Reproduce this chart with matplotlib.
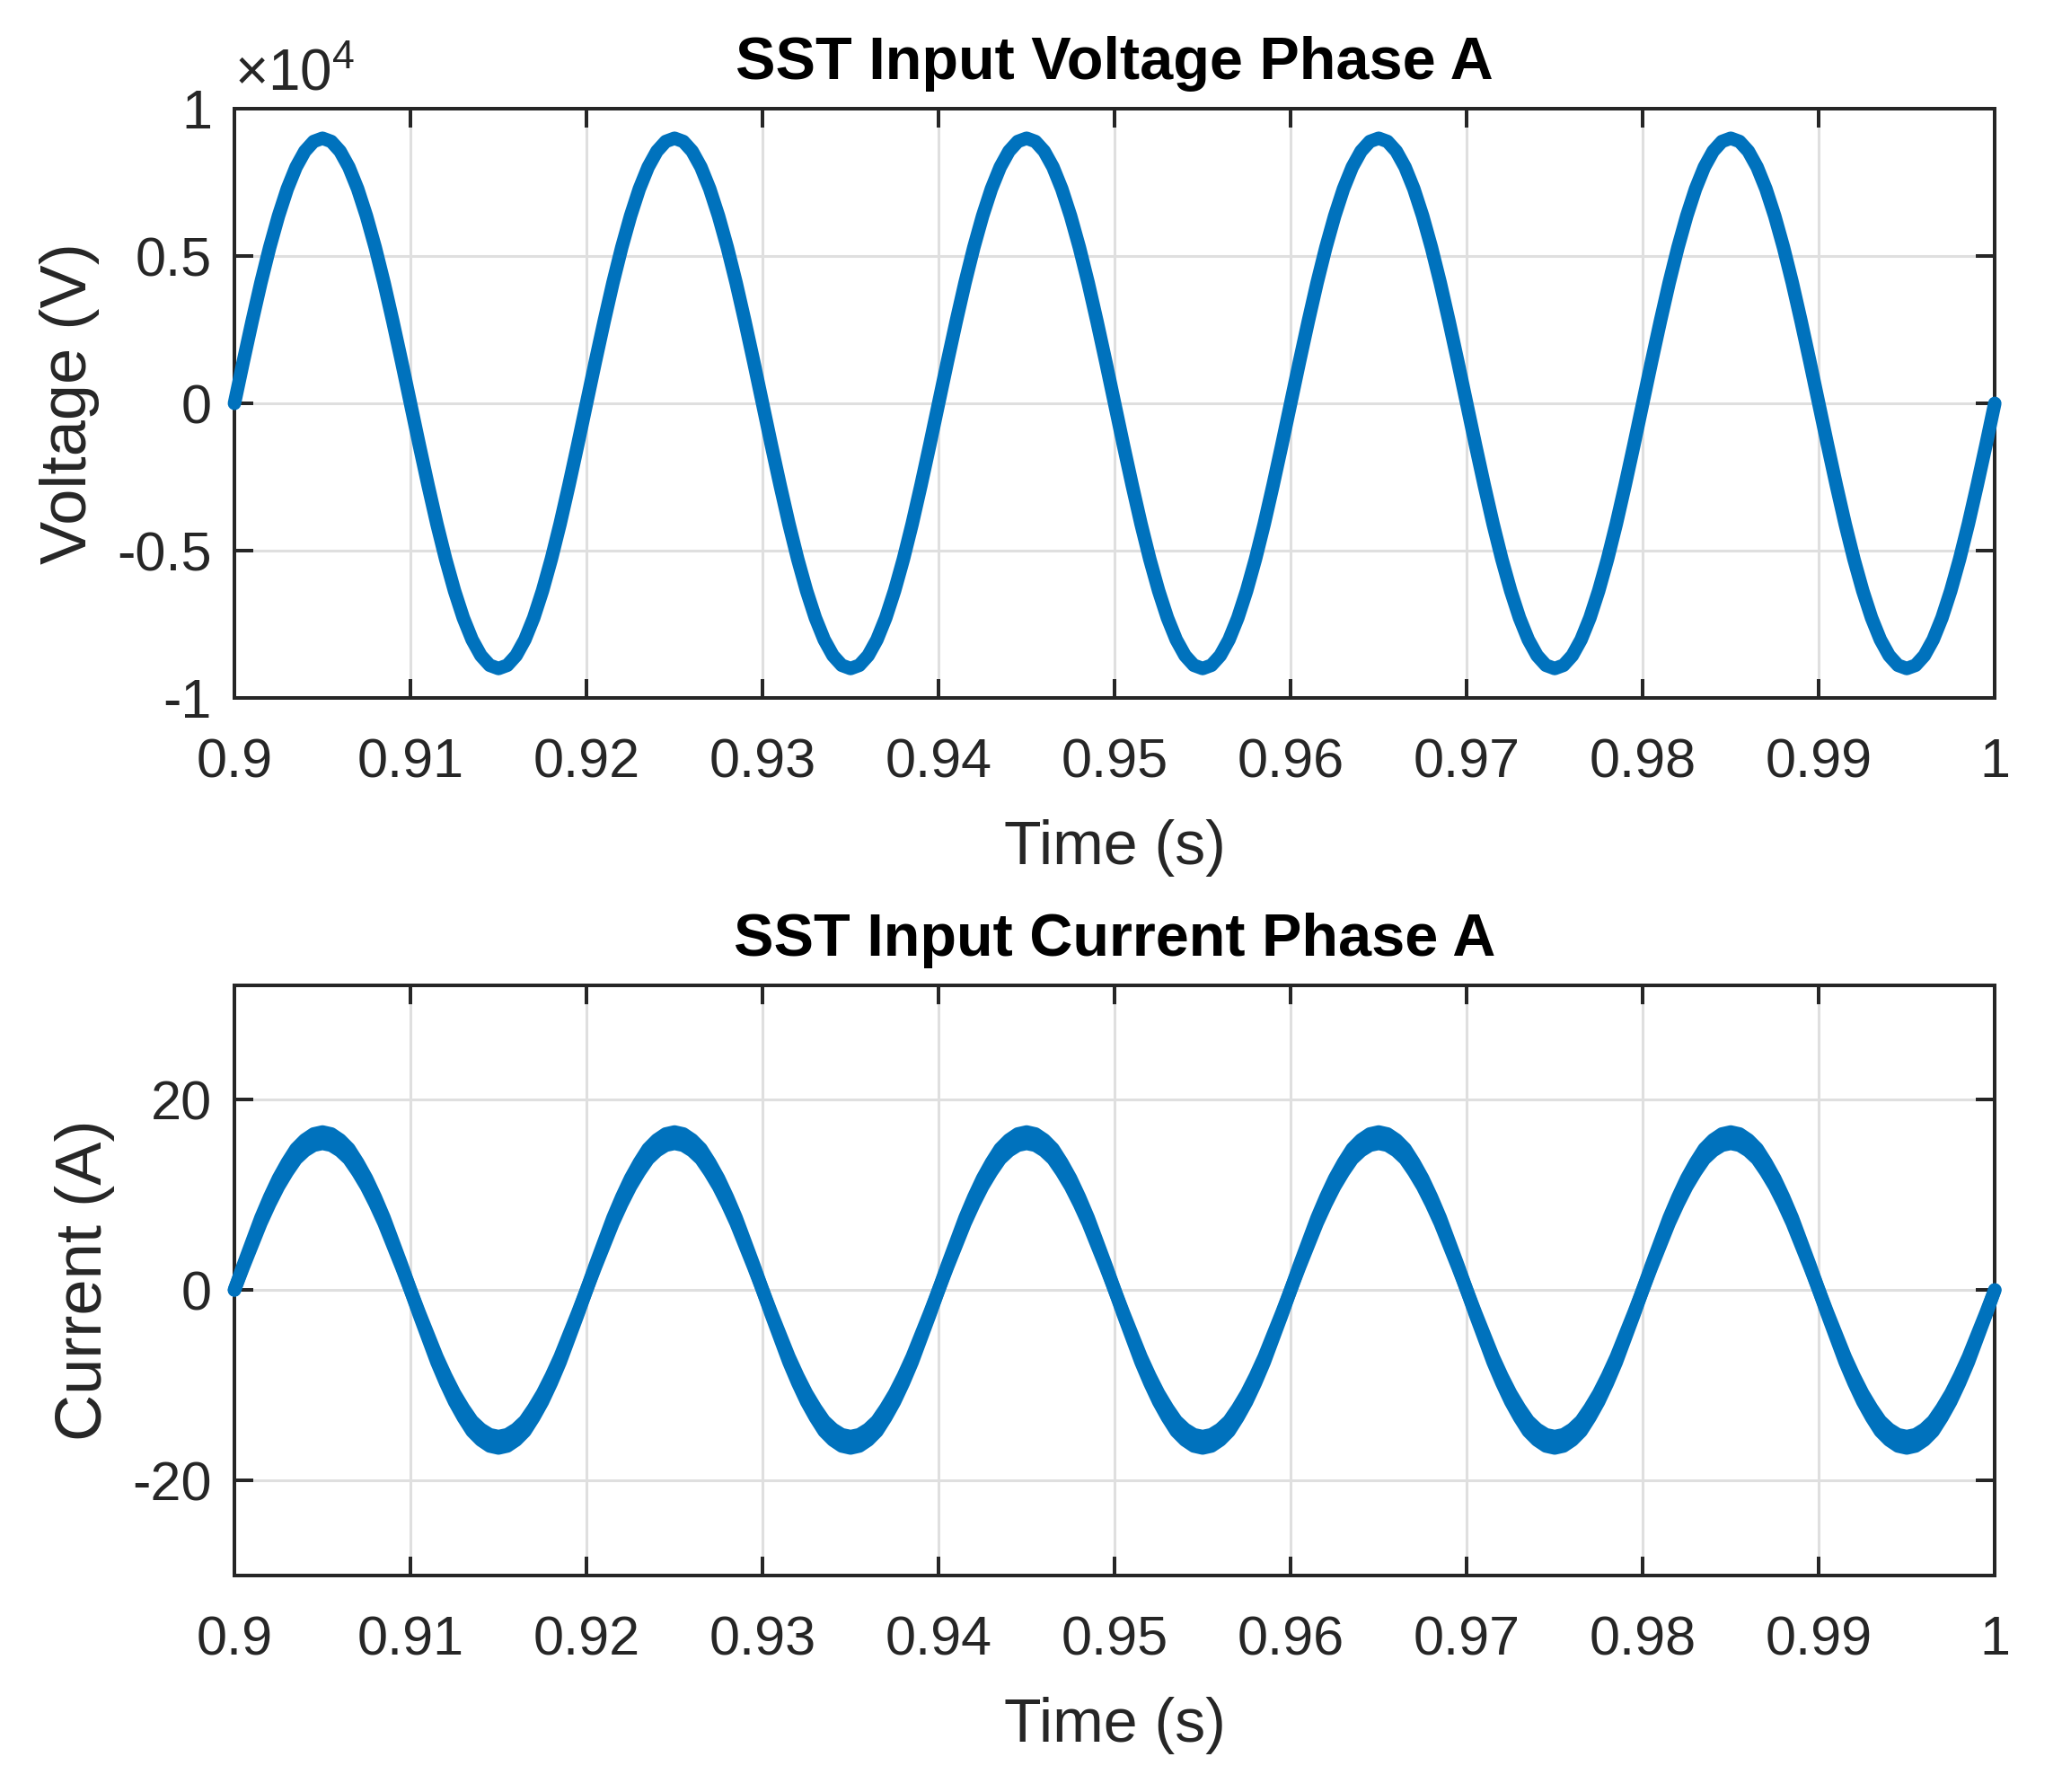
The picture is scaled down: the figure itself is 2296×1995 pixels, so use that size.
#SST input waveforms, phase A - voltage and current over the last 0.1 s
import numpy as np
import matplotlib
matplotlib.use('Agg')
import matplotlib.pyplot as plt

plt.rcParams['font.family'] = ['Liberation Sans', 'DejaVu Sans']
plt.rcParams['mathtext.default'] = 'regular'

#---Data (one row per 20 ms cycle, 0.5 ms samples)---
T0 = 0.9
Dt = 0.0005

Volts = [
    0, 1410, 2780, 4090, 5290, 6360, 7280, 8020, 8560, 8890, 9000, 8890, 8560, 8020, 7280, 6360, 5290, 4090, 2780, 1410,
    0, -1410, -2780, -4090, -5290, -6360, -7280, -8020, -8560, -8890, -9000, -8890, -8560, -8020, -7280, -6360, -5290, -4090, -2780, -1410,
    0, 1410, 2780, 4090, 5290, 6360, 7280, 8020, 8560, 8890, 9000, 8890, 8560, 8020, 7280, 6360, 5290, 4090, 2780, 1410,
    0, -1410, -2780, -4090, -5290, -6360, -7280, -8020, -8560, -8890, -9000, -8890, -8560, -8020, -7280, -6360, -5290, -4090, -2780, -1410,
    0, 1410, 2780, 4090, 5290, 6360, 7280, 8020, 8560, 8890, 9000, 8890, 8560, 8020, 7280, 6360, 5290, 4090, 2780, 1410,
    0, -1410, -2780, -4090, -5290, -6360, -7280, -8020, -8560, -8890, -9000, -8890, -8560, -8020, -7280, -6360, -5290, -4090, -2780, -1410,
    0, 1410, 2780, 4090, 5290, 6360, 7280, 8020, 8560, 8890, 9000, 8890, 8560, 8020, 7280, 6360, 5290, 4090, 2780, 1410,
    0, -1410, -2780, -4090, -5290, -6360, -7280, -8020, -8560, -8890, -9000, -8890, -8560, -8020, -7280, -6360, -5290, -4090, -2780, -1410,
    0, 1410, 2780, 4090, 5290, 6360, 7280, 8020, 8560, 8890, 9000, 8890, 8560, 8020, 7280, 6360, 5290, 4090, 2780, 1410,
    0, -1410, -2780, -4090, -5290, -6360, -7280, -8020, -8560, -8890, -9000, -8890, -8560, -8020, -7280, -6360, -5290, -4090, -2780, -1410,
    0,
]

Amps = [
    0, 2.5, 4.9, 7.3, 9.4, 11.3, 12.9, 14.3, 15.2, 15.8, 16.0, 15.8, 15.2, 14.3, 12.9, 11.3, 9.4, 7.3, 4.9, 2.5,
    0, -2.5, -4.9, -7.3, -9.4, -11.3, -12.9, -14.3, -15.2, -15.8, -16.0, -15.8, -15.2, -14.3, -12.9, -11.3, -9.4, -7.3, -4.9, -2.5,
    0, 2.5, 4.9, 7.3, 9.4, 11.3, 12.9, 14.3, 15.2, 15.8, 16.0, 15.8, 15.2, 14.3, 12.9, 11.3, 9.4, 7.3, 4.9, 2.5,
    0, -2.5, -4.9, -7.3, -9.4, -11.3, -12.9, -14.3, -15.2, -15.8, -16.0, -15.8, -15.2, -14.3, -12.9, -11.3, -9.4, -7.3, -4.9, -2.5,
    0, 2.5, 4.9, 7.3, 9.4, 11.3, 12.9, 14.3, 15.2, 15.8, 16.0, 15.8, 15.2, 14.3, 12.9, 11.3, 9.4, 7.3, 4.9, 2.5,
    0, -2.5, -4.9, -7.3, -9.4, -11.3, -12.9, -14.3, -15.2, -15.8, -16.0, -15.8, -15.2, -14.3, -12.9, -11.3, -9.4, -7.3, -4.9, -2.5,
    0, 2.5, 4.9, 7.3, 9.4, 11.3, 12.9, 14.3, 15.2, 15.8, 16.0, 15.8, 15.2, 14.3, 12.9, 11.3, 9.4, 7.3, 4.9, 2.5,
    0, -2.5, -4.9, -7.3, -9.4, -11.3, -12.9, -14.3, -15.2, -15.8, -16.0, -15.8, -15.2, -14.3, -12.9, -11.3, -9.4, -7.3, -4.9, -2.5,
    0, 2.5, 4.9, 7.3, 9.4, 11.3, 12.9, 14.3, 15.2, 15.8, 16.0, 15.8, 15.2, 14.3, 12.9, 11.3, 9.4, 7.3, 4.9, 2.5,
    0, -2.5, -4.9, -7.3, -9.4, -11.3, -12.9, -14.3, -15.2, -15.8, -16.0, -15.8, -15.2, -14.3, -12.9, -11.3, -9.4, -7.3, -4.9, -2.5,
    0,
]
RippleFrac = 0.0375   #switching ripple band on the current, as a fraction of the instantaneous value

XTicks = [0.9, 0.91, 0.92, 0.93, 0.94, 0.95, 0.96, 0.97, 0.98, 0.99, 1.0]
XTickLabels = ["0.9", "0.91", "0.92", "0.93", "0.94", "0.95", "0.96", "0.97", "0.98", "0.99", "1"]
VTicks = [-10000, -5000, 0, 5000, 10000]
VTickLabels = ["-1", "-0.5", "0", "0.5", "1"]
ITicks = [-20, 0, 20]
ITickLabels = ["-20", "0", "20"]

#---Style---
LineColour = "#0072BD"
AxColour = "#262626"
GridColour = "#dfdfdf"
LineW = 5.4
TickSize = 22
XLabelSize = 24.5
YLabelSize = 26
TitleSize = 24

Time = T0 + Dt * np.arange(len(Volts))
Volts = np.array(Volts, dtype=float)
Amps = np.array(Amps, dtype=float)

def StyleAxes(Ax):
    Ax.set_xlim(0.9, 1.0)
    Ax.set_xticks(XTicks)
    Ax.set_xticklabels(XTickLabels)
    Ax.tick_params(direction='in', length=7.5, width=1.44, top=True, right=True,
                   labelsize=TickSize, labelcolor=AxColour, color=AxColour)
    Ax.tick_params(axis='x', pad=16)
    Ax.tick_params(axis='y', pad=9)
    Ax.grid(True, color=GridColour, linewidth=1.1)
    Ax.set_axisbelow(True)
    for S in Ax.spines.values():
        S.set_color(AxColour)
        S.set_linewidth(1.44)
    Ax.set_xlabel("Time (s)", fontsize=XLabelSize, color=AxColour, labelpad=12)

fig = plt.figure(figsize=(11.48, 9.975), dpi=200)
ax1 = fig.add_axes([0.1137, 0.6105, 0.8537, 0.3288])
ax2 = fig.add_axes([0.1137, 0.1208, 0.8537, 0.3293])

#Voltage
ax1.plot(Time, Volts, color=LineColour, linewidth=LineW, solid_capstyle='round', clip_on=False, zorder=3)
ax1.set_ylim(-10000, 10000)
ax1.set_yticks(VTicks)
ax1.set_yticklabels(VTickLabels)
StyleAxes(ax1)
ax1.set_ylabel("Voltage (V)", fontsize=YLabelSize, color=AxColour, labelpad=7)
ax1.set_title("SST Input Voltage Phase A", fontsize=TitleSize, fontweight='bold', pad=12)
ax1.text(0.0, 1.012, r"$\times10^{4}$", transform=ax1.transAxes, ha='left', va='bottom',
         fontsize=TickSize + 1, color=AxColour)

#Current (thick band = switching ripple)
Upper = Amps * (1 + RippleFrac)
Lower = Amps * (1 - RippleFrac)
ax2.fill_between(Time, Lower, Upper, color=LineColour, linewidth=0, zorder=3)
ax2.plot(Time, Upper, color=LineColour, linewidth=LineW, solid_capstyle='round', clip_on=False, zorder=3)
ax2.plot(Time, Lower, color=LineColour, linewidth=LineW, solid_capstyle='round', clip_on=False, zorder=3)
ax2.set_ylim(-30, 32)
ax2.set_yticks(ITicks)
ax2.set_yticklabels(ITickLabels)
StyleAxes(ax2)
ax2.set_ylabel("Current (A)", fontsize=YLabelSize, color=AxColour, labelpad=7)
ax2.set_title("SST Input Current Phase A", fontsize=TitleSize, fontweight='bold', pad=12)

fig.savefig("out.png", dpi=200, facecolor='white')
